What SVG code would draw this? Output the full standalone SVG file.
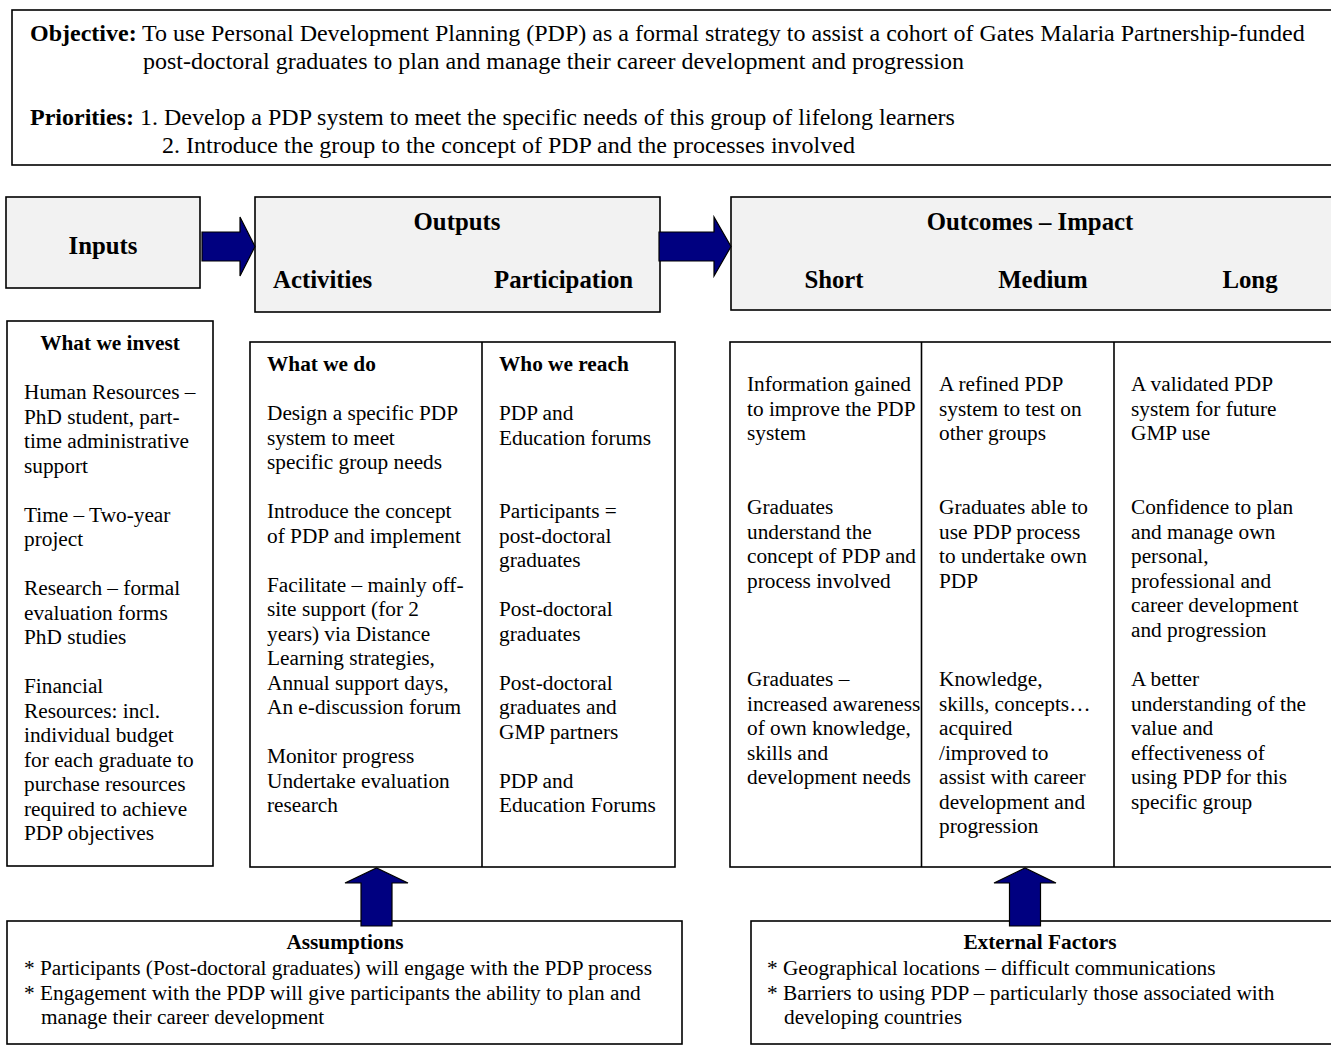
<svg xmlns="http://www.w3.org/2000/svg" width="1331" height="1046" viewBox="0 0 1331 1046">
<style>
text{font-family:"Liberation Serif","Times New Roman",serif;fill:#000}
.t{font-size:24px}
.h{font-size:24.8px;font-weight:bold}
.b{font-size:21.3px}
.bb{font-size:21.3px;font-weight:bold}
.bold{font-weight:bold}
.box{fill:#fff;stroke:#000;stroke-width:1.6}
.hdr{fill:#f2f2f2;stroke:#000;stroke-width:1.6}
.arr{fill:#000080;stroke:#000;stroke-width:1.2;stroke-linejoin:miter}
.ln{stroke:#000;stroke-width:1.6}
.m{text-anchor:middle}
</style>
<rect width="1331" height="1046" fill="#fff"/>

<g id="objective">
<rect class="box" x="12" y="10" width="1320" height="155"/>
<text class="t"><tspan class="bold" x="30" y="41">Objective:</tspan><tspan x="142" y="41">To use Personal Development Planning (PDP) as a formal strategy to assist a cohort of Gates Malaria Partnership-funded</tspan><tspan x="143" y="69">post-doctoral graduates to plan and manage their career development and progression</tspan><tspan class="bold" x="30" y="125">Priorities:</tspan><tspan x="140" y="125">1. Develop a PDP system to meet the specific needs of this group of lifelong learners</tspan><tspan x="162" y="153">2. Introduce the group to the concept of PDP and the processes involved</tspan></text>
</g>

<g id="inputs-header">
<rect class="hdr" x="6" y="197" width="194" height="91"/>
<text class="h m" x="103" y="254">Inputs</text>
</g>

<g id="outputs-header">
<rect class="hdr" x="255" y="197" width="405" height="115"/>
<text class="h m" x="457" y="230">Outputs</text>
<text class="h" x="273" y="288">Activities</text>
<text class="h" x="494" y="288">Participation</text>
</g>

<g id="outcomes-header">
<rect class="hdr" x="731" y="197" width="601" height="113"/>
<text class="h m" x="1030" y="230">Outcomes – Impact</text>
<text class="h m" x="834" y="288">Short</text>
<text class="h m" x="1043" y="288">Medium</text>
<text class="h m" x="1250" y="288">Long</text>
</g>

<g id="inputs-detail">
<rect class="box" x="7" y="321" width="206" height="545"/>
<text class="bb m" x="110" y="350">What we invest</text>
<text class="b"><tspan x="24" y="399">Human Resources –</tspan><tspan x="24" y="423.5">PhD student, part-</tspan><tspan x="24" y="448">time administrative</tspan><tspan x="24" y="472.5">support</tspan><tspan x="24" y="521.5">Time – Two-year</tspan><tspan x="24" y="546">project</tspan><tspan x="24" y="595">Research – formal</tspan><tspan x="24" y="619.5">evaluation forms</tspan><tspan x="24" y="644">PhD studies</tspan><tspan x="24" y="693">Financial</tspan><tspan x="24" y="717.5">Resources: incl.</tspan><tspan x="24" y="742">individual budget</tspan><tspan x="24" y="766.5">for each graduate to</tspan><tspan x="24" y="791">purchase resources</tspan><tspan x="24" y="815.5">required to achieve</tspan><tspan x="24" y="840">PDP objectives</tspan></text>
</g>

<g id="outputs-detail">
<rect class="box" x="250" y="342" width="425" height="525"/>
<line class="ln" x1="482" y1="342" x2="482" y2="867"/>
<text class="bb" x="267" y="371">What we do</text>
<text class="b"><tspan x="267" y="420">Design a specific PDP</tspan><tspan x="267" y="444.5">system to meet</tspan><tspan x="267" y="469">specific group needs</tspan><tspan x="267" y="518">Introduce the concept</tspan><tspan x="267" y="542.5">of PDP and implement</tspan><tspan x="267" y="591.5">Facilitate – mainly off-</tspan><tspan x="267" y="616">site support (for 2</tspan><tspan x="267" y="640.5">years) via Distance</tspan><tspan x="267" y="665">Learning strategies,</tspan><tspan x="267" y="689.5">Annual support days,</tspan><tspan x="267" y="714">An e-discussion forum</tspan><tspan x="267" y="763">Monitor progress</tspan><tspan x="267" y="787.5">Undertake evaluation</tspan><tspan x="267" y="812">research</tspan></text>
<text class="bb" x="499" y="371">Who we reach</text>
<text class="b"><tspan x="499" y="420">PDP and</tspan><tspan x="499" y="444.5">Education forums</tspan><tspan x="499" y="518">Participants =</tspan><tspan x="499" y="542.5">post-doctoral</tspan><tspan x="499" y="567">graduates</tspan><tspan x="499" y="616">Post-doctoral</tspan><tspan x="499" y="640.5">graduates</tspan><tspan x="499" y="689.5">Post-doctoral</tspan><tspan x="499" y="714">graduates and</tspan><tspan x="499" y="738.5">GMP partners</tspan><tspan x="499" y="787.5">PDP and</tspan><tspan x="499" y="812">Education Forums</tspan></text>
</g>

<g id="outcomes-detail">
<rect class="box" x="730" y="342" width="602" height="525"/>
<line class="ln" x1="921.5" y1="342" x2="921.5" y2="867"/>
<line class="ln" x1="1114" y1="342" x2="1114" y2="867"/>
<text class="b"><tspan x="747" y="391">Information gained</tspan><tspan x="747" y="415.5">to improve the PDP</tspan><tspan x="747" y="440">system</tspan><tspan x="747" y="514">Graduates</tspan><tspan x="747" y="538.5">understand the</tspan><tspan x="747" y="563">concept of PDP and</tspan><tspan x="747" y="587.5">process involved</tspan><tspan x="747" y="686">Graduates –</tspan><tspan x="747" y="710.5">increased awareness</tspan><tspan x="747" y="735">of own knowledge,</tspan><tspan x="747" y="759.5">skills and</tspan><tspan x="747" y="784">development needs</tspan></text>
<text class="b"><tspan x="939" y="391">A refined PDP</tspan><tspan x="939" y="415.5">system to test on</tspan><tspan x="939" y="440">other groups</tspan><tspan x="939" y="514">Graduates able to</tspan><tspan x="939" y="538.5">use PDP process</tspan><tspan x="939" y="563">to undertake own</tspan><tspan x="939" y="587.5">PDP</tspan><tspan x="939" y="686">Knowledge,</tspan><tspan x="939" y="710.5">skills, concepts…</tspan><tspan x="939" y="735">acquired</tspan><tspan x="939" y="759.5">/improved to</tspan><tspan x="939" y="784">assist with career</tspan><tspan x="939" y="808.5">development and</tspan><tspan x="939" y="833">progression</tspan></text>
<text class="b"><tspan x="1131" y="391">A validated PDP</tspan><tspan x="1131" y="415.5">system for future</tspan><tspan x="1131" y="440">GMP use</tspan><tspan x="1131" y="514">Confidence to plan</tspan><tspan x="1131" y="538.5">and manage own</tspan><tspan x="1131" y="563">personal,</tspan><tspan x="1131" y="587.5">professional and</tspan><tspan x="1131" y="612">career development</tspan><tspan x="1131" y="636.5">and progression</tspan><tspan x="1131" y="686">A better</tspan><tspan x="1131" y="710.5">understanding of the</tspan><tspan x="1131" y="735">value and</tspan><tspan x="1131" y="759.5">effectiveness of</tspan><tspan x="1131" y="784">using PDP for this</tspan><tspan x="1131" y="808.5">specific group</tspan></text>
</g>

<g id="assumptions">
<rect class="box" x="7" y="921" width="675" height="123"/>
<text class="bb m" x="345" y="949">Assumptions</text>
<text class="b"><tspan x="24" y="975">* Participants (Post-doctoral graduates) will engage with the PDP process</tspan><tspan x="24" y="999.5">* Engagement with the PDP will give participants the ability to plan and</tspan><tspan x="41" y="1024">manage their career development</tspan></text>
</g>

<g id="external-factors">
<rect class="box" x="751" y="921" width="581" height="123"/>
<text class="bb m" x="1040" y="949">External Factors</text>
<text class="b"><tspan x="767" y="975">* Geographical locations – difficult communications</tspan><tspan x="767" y="999.5">* Barriers to using PDP – particularly those associated with</tspan><tspan x="784" y="1024">developing countries</tspan></text>
</g>

<g id="connectors">
<path class="arr" d="M202,232 H240 V217 L255,246.5 L240,276 V261 H202 Z"/>
<path class="arr" d="M659,232 H714 V217 L731,246.5 L714,276 V261 H659 Z"/>
<path class="arr" d="M361,926 V883 H345 L376.5,868 L408,883 H392 V926 Z"/>
<path class="arr" d="M1009.5,926 V883 H994 L1025,868 L1056,883 H1040.5 V926 Z"/>
</g>
</svg>
